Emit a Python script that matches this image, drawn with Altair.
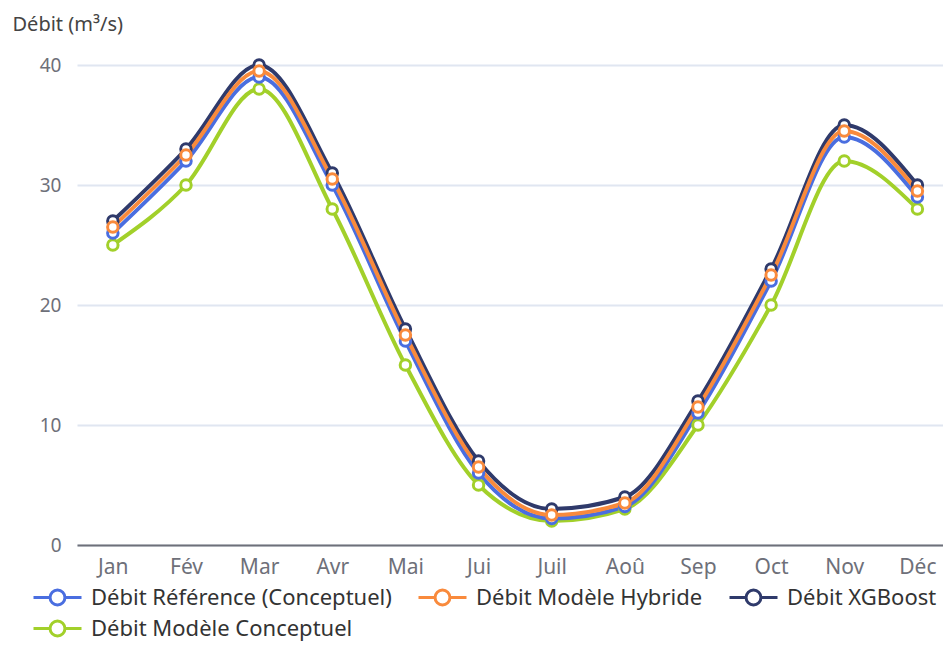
import json
import altair as alt
import pandas as pd

months = ["Jan", "Fév", "Mar", "Avr", "Mai", "Jui", "Juil", "Aoû", "Sep", "Oct", "Nov", "Déc"]
series_names = [
    "Débit Référence (Conceptuel)",
    "Débit Modèle Hybride",
    "Débit XGBoost",
    "Débit Modèle Conceptuel",
]
colors = ["#4a6ee0", "#f98a3c", "#2f3a6b", "#a2d02a"]

ref_conceptuel = [26, 32, 39, 30, 17, 6, 2.2, 3.2, 11, 22, 34, 29]
hybride = [26.5, 32.5, 39.5, 30.5, 17.5, 6.5, 2.5, 3.5, 11.5, 22.5, 34.5, 29.5]
xgboost = [27, 33, 40, 31, 18, 7, 3, 4, 12, 23, 35, 30]
conceptuel = [25, 30, 38, 28, 15, 5, 2, 3, 10, 20, 32, 28]

values_by_series = {
    series_names[0]: ref_conceptuel,
    series_names[1]: hybride,
    series_names[2]: xgboost,
    series_names[3]: conceptuel,
}
draw_order = [series_names[3], series_names[0], series_names[2], series_names[1]]

rows = []
for rank, name in enumerate(draw_order):
    for i, v in enumerate(values_by_series[name]):
        rows.append({"idx": i, "mois": months[i], "serie": name, "debit": v, "rank": rank})
df = pd.DataFrame(rows)

font = "Noto Sans"
label_expr = json.dumps(months) + "[datum.value]"
legend_path = ("M-1,0L-0.31,0M0.31,0L1,0"
               "M-0.31,0A0.31,0.31 0 1,0 0.31,0A0.31,0.31 0 1,0 -0.31,0Z")

x_enc = alt.X("idx:Q",
              scale=alt.Scale(domain=[-0.49, 11.35], nice=False, zero=False),
              axis=alt.Axis(values=list(range(12)), labelExpr=label_expr, title=None,
                            grid=False, ticks=False, domainColor="#6e7079", domainWidth=2,
                            labelFontSize=21, labelColor="#6e7079", labelPadding=11,
                            labelFont=font))
y_enc = alt.Y("debit:Q",
              scale=alt.Scale(domain=[0, 40], nice=False),
              axis=alt.Axis(values=[0, 10, 20, 30, 40], title="Débit (m³/s)",
                            titleAngle=0, titleAlign="left", titleBaseline="middle",
                            titleX=-65, titleY=-41, titleFontSize=20, titleFontWeight="normal",
                            titleColor="#444444", titleFont=font,
                            domain=False, ticks=False, gridColor="#e0e6f1", gridWidth=2,
                            labelFontSize=19, labelColor="#6e7079", labelPadding=16,
                            labelFont=font))
color_scale = alt.Scale(domain=series_names, range=colors)
legend = alt.Legend(title=None, orient="none", legendX=-45, legendY=507,
                    direction="horizontal", columns=3, gridAlign="none",
                    symbolType=legend_path, symbolSize=2304,
                    symbolStrokeWidth=3, symbolFillColor="white",
                    labelFontSize=22, labelColor="#333333", labelFont=font,
                    labelOffset=8, columnPadding=20, rowPadding=-8,
                    labelLimit=400)

lines = alt.Chart(df).mark_line(interpolate="monotone", strokeWidth=4).encode(
    x=x_enc,
    y=y_enc,
    color=alt.Color("serie:N", scale=color_scale, legend=legend),
    detail="rank:O",
    order="idx:Q",
)

points = alt.Chart(df).mark_point(shape="circle", filled=False, fill="white", size=110,
                                  strokeWidth=3, opacity=1).encode(
    x="idx:Q",
    y="debit:Q",
    color=alt.Color("serie:N", scale=color_scale, legend=legend),
)

chart = alt.layer(lines, points).properties(
    width=866, height=480,
    autosize=alt.AutoSizeParams(type="none"),
    padding={"left": 69, "top": 57, "right": 0, "bottom": 99},
).configure_view(stroke=None)

chart.save("out.html", embed_options={"renderer": "svg", "actions": False})
